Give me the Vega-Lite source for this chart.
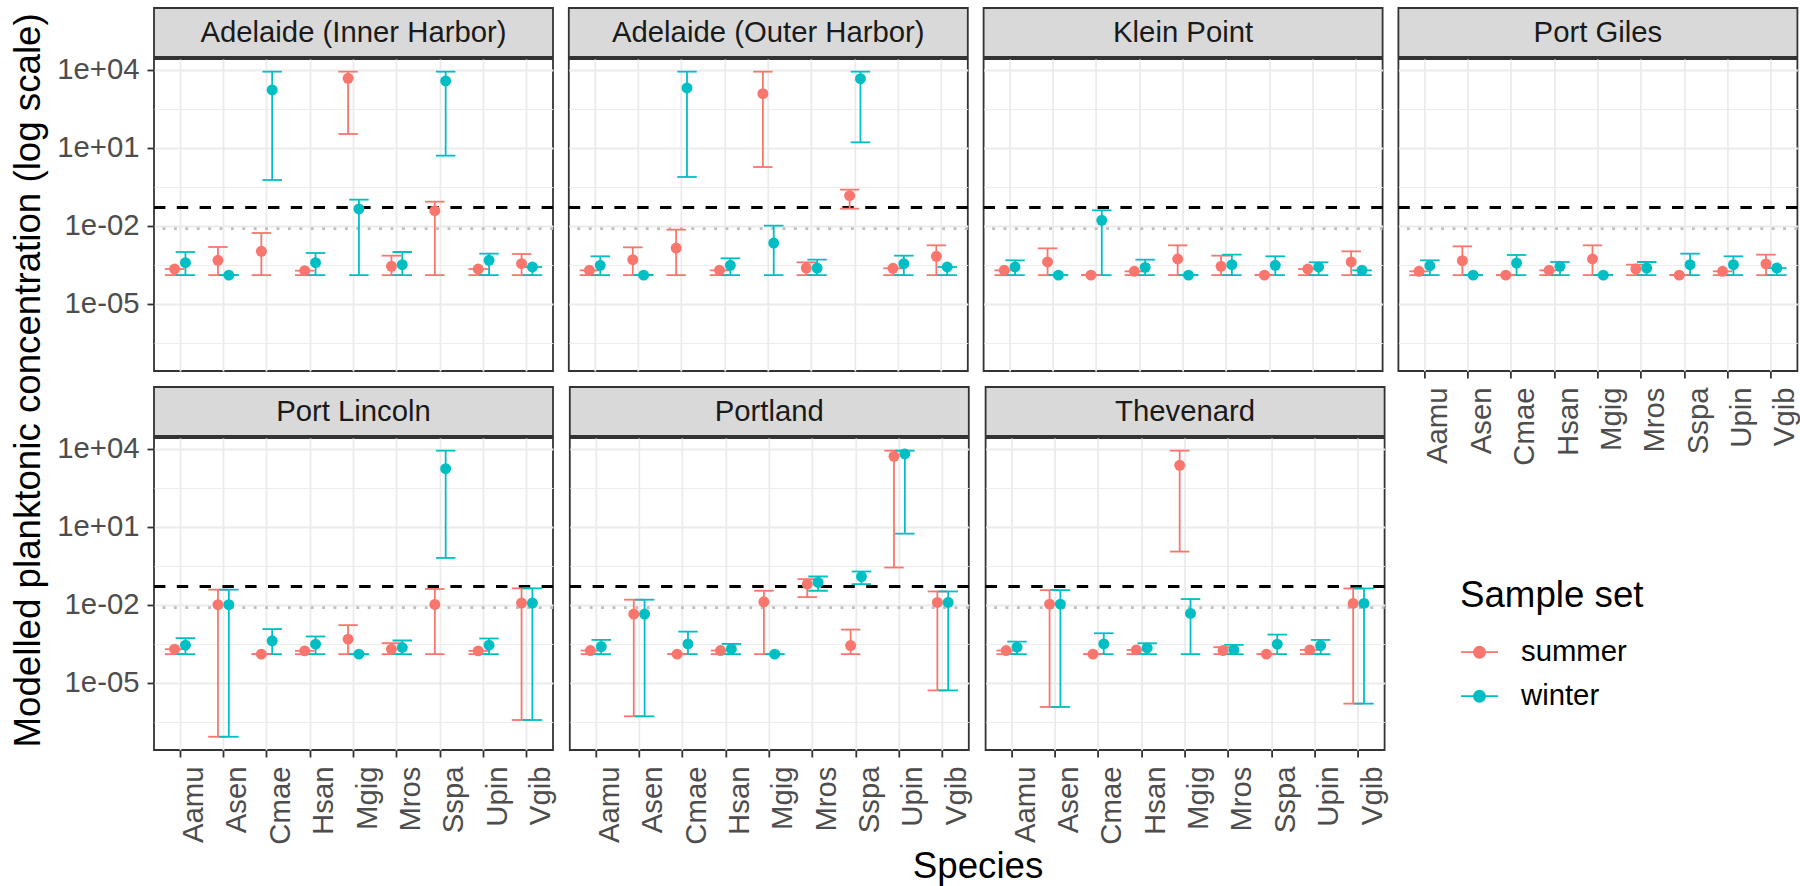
{
  "$schema": "https://vega.github.io/schema/vega-lite/v6.json",
  "background": "white",
  "padding": {"left": 11, "top": 7, "right": 0, "bottom": 0},
  "title": {"text": "Modelled planktonic concentration (log scale)", "orient": "left", "anchor": "middle", "fontSize": 36.7, "fontWeight": "normal", "color": "black", "font": "Liberation Sans", "offset": 8, "dx": 66},
  "datasets": {
    "conc": [
      {"st":"Adelaide (Inner Harbor)","sp":"Aamu","set":"summer","m":2.15e-4,"lo":1.25e-4,"hi":2.15e-4},
      {"st":"Adelaide (Inner Harbor)","sp":"Aamu","set":"winter","m":3.78e-4,"lo":1.25e-4,"hi":9.7e-4},
      {"st":"Adelaide (Inner Harbor)","sp":"Asen","set":"summer","m":4.65e-4,"lo":1.25e-4,"hi":1.51e-3},
      {"st":"Adelaide (Inner Harbor)","sp":"Asen","set":"winter","m":1.25e-4,"lo":1.25e-4,"hi":1.25e-4},
      {"st":"Adelaide (Inner Harbor)","sp":"Cmae","set":"summer","m":1.03e-3,"lo":1.25e-4,"hi":5.22e-3},
      {"st":"Adelaide (Inner Harbor)","sp":"Cmae","set":"winter","m":1652,"lo":0.57,"hi":8375},
      {"st":"Adelaide (Inner Harbor)","sp":"Hsan","set":"summer","m":1.86e-4,"lo":1.25e-4,"hi":1.86e-4},
      {"st":"Adelaide (Inner Harbor)","sp":"Hsan","set":"winter","m":3.78e-4,"lo":1.25e-4,"hi":8.89e-4},
      {"st":"Adelaide (Inner Harbor)","sp":"Mgig","set":"summer","m":4645,"lo":33.6,"hi":8375},
      {"st":"Adelaide (Inner Harbor)","sp":"Mgig","set":"winter","m":0.0438,"lo":1.25e-4,"hi":0.1},
      {"st":"Adelaide (Inner Harbor)","sp":"Mros","set":"summer","m":2.73e-4,"lo":1.25e-4,"hi":7.01e-4},
      {"st":"Adelaide (Inner Harbor)","sp":"Mros","set":"winter","m":3.16e-4,"lo":1.25e-4,"hi":9.7e-4},
      {"st":"Adelaide (Inner Harbor)","sp":"Sspa","set":"summer","m":0.0378,"lo":1.25e-4,"hi":0.0838},
      {"st":"Adelaide (Inner Harbor)","sp":"Sspa","set":"winter","m":3664,"lo":4.92,"hi":8375},
      {"st":"Adelaide (Inner Harbor)","sp":"Upin","set":"summer","m":2.15e-4,"lo":1.25e-4,"hi":2.15e-4},
      {"st":"Adelaide (Inner Harbor)","sp":"Upin","set":"winter","m":4.65e-4,"lo":1.25e-4,"hi":8.38e-4},
      {"st":"Adelaide (Inner Harbor)","sp":"Vgib","set":"summer","m":3.45e-4,"lo":1.25e-4,"hi":8.13e-4},
      {"st":"Adelaide (Inner Harbor)","sp":"Vgib","set":"winter","m":2.57e-4,"lo":1.25e-4,"hi":2.57e-4},

      {"st":"Adelaide (Outer Harbor)","sp":"Aamu","set":"summer","m":1.91e-4,"lo":1.25e-4,"hi":1.91e-4},
      {"st":"Adelaide (Outer Harbor)","sp":"Aamu","set":"winter","m":2.98e-4,"lo":1.25e-4,"hi":6.62e-4},
      {"st":"Adelaide (Outer Harbor)","sp":"Asen","set":"summer","m":4.92e-4,"lo":1.25e-4,"hi":1.47e-3},
      {"st":"Adelaide (Outer Harbor)","sp":"Asen","set":"winter","m":1.25e-4,"lo":1.25e-4,"hi":1.25e-4},
      {"st":"Adelaide (Outer Harbor)","sp":"Cmae","set":"summer","m":1.38e-3,"lo":1.25e-4,"hi":7.02e-3},
      {"st":"Adelaide (Outer Harbor)","sp":"Cmae","set":"winter","m":1972,"lo":0.745,"hi":8375},
      {"st":"Adelaide (Outer Harbor)","sp":"Hsan","set":"summer","m":1.91e-4,"lo":1.25e-4,"hi":1.91e-4},
      {"st":"Adelaide (Outer Harbor)","sp":"Hsan","set":"winter","m":2.98e-4,"lo":1.25e-4,"hi":5.55e-4},
      {"st":"Adelaide (Outer Harbor)","sp":"Mgig","set":"summer","m":1194,"lo":1.8,"hi":8375},
      {"st":"Adelaide (Outer Harbor)","sp":"Mgig","set":"winter","m":2.15e-3,"lo":1.25e-4,"hi":0.01},
      {"st":"Adelaide (Outer Harbor)","sp":"Mros","set":"summer","m":2.35e-4,"lo":1.25e-4,"hi":3.89e-4},
      {"st":"Adelaide (Outer Harbor)","sp":"Mros","set":"winter","m":2.35e-4,"lo":1.25e-4,"hi":4.92e-4},
      {"st":"Adelaide (Outer Harbor)","sp":"Sspa","set":"summer","m":0.143,"lo":0.0451,"hi":0.243},
      {"st":"Adelaide (Outer Harbor)","sp":"Sspa","set":"winter","m":4508,"lo":16.0,"hi":8375},
      {"st":"Adelaide (Outer Harbor)","sp":"Upin","set":"summer","m":2.29e-4,"lo":1.25e-4,"hi":2.29e-4},
      {"st":"Adelaide (Outer Harbor)","sp":"Upin","set":"winter","m":3.45e-4,"lo":1.25e-4,"hi":7.01e-4},
      {"st":"Adelaide (Outer Harbor)","sp":"Vgib","set":"summer","m":6.62e-4,"lo":1.25e-4,"hi":1.75e-3},
      {"st":"Adelaide (Outer Harbor)","sp":"Vgib","set":"winter","m":2.57e-4,"lo":1.25e-4,"hi":2.57e-4},

      {"st":"Klein Point","sp":"Aamu","set":"summer","m":1.91e-4,"lo":1.25e-4,"hi":1.91e-4},
      {"st":"Klein Point","sp":"Aamu","set":"winter","m":2.57e-4,"lo":1.25e-4,"hi":4.65e-4},
      {"st":"Klein Point","sp":"Asen","set":"summer","m":4.01e-4,"lo":1.25e-4,"hi":1.34e-3},
      {"st":"Klein Point","sp":"Asen","set":"winter","m":1.25e-4,"lo":1.25e-4,"hi":1.25e-4},
      {"st":"Klein Point","sp":"Cmae","set":"summer","m":1.25e-4,"lo":1.25e-4,"hi":1.25e-4},
      {"st":"Klein Point","sp":"Cmae","set":"winter","m":0.016,"lo":1.25e-4,"hi":0.0389},
      {"st":"Klein Point","sp":"Hsan","set":"summer","m":1.75e-4,"lo":1.25e-4,"hi":1.75e-4},
      {"st":"Klein Point","sp":"Hsan","set":"winter","m":2.49e-4,"lo":1.25e-4,"hi":4.92e-4},
      {"st":"Klein Point","sp":"Mgig","set":"summer","m":5.22e-4,"lo":1.25e-4,"hi":1.75e-3},
      {"st":"Klein Point","sp":"Mgig","set":"winter","m":1.25e-4,"lo":1.25e-4,"hi":1.25e-4},
      {"st":"Klein Point","sp":"Mros","set":"summer","m":2.73e-4,"lo":1.25e-4,"hi":7.01e-4},
      {"st":"Klein Point","sp":"Mros","set":"winter","m":3.16e-4,"lo":1.25e-4,"hi":7.67e-4},
      {"st":"Klein Point","sp":"Sspa","set":"summer","m":1.25e-4,"lo":1.25e-4,"hi":1.25e-4},
      {"st":"Klein Point","sp":"Sspa","set":"winter","m":2.98e-4,"lo":1.25e-4,"hi":6.62e-4},
      {"st":"Klein Point","sp":"Upin","set":"summer","m":2.15e-4,"lo":1.25e-4,"hi":2.15e-4},
      {"st":"Klein Point","sp":"Upin","set":"winter","m":2.57e-4,"lo":1.25e-4,"hi":3.89e-4},
      {"st":"Klein Point","sp":"Vgib","set":"summer","m":4.01e-4,"lo":1.25e-4,"hi":1.03e-3},
      {"st":"Klein Point","sp":"Vgib","set":"winter","m":1.91e-4,"lo":1.25e-4,"hi":1.91e-4},

      {"st":"Port Giles","sp":"Aamu","set":"summer","m":1.75e-4,"lo":1.25e-4,"hi":1.75e-4},
      {"st":"Port Giles","sp":"Aamu","set":"winter","m":2.9e-4,"lo":1.25e-4,"hi":4.65e-4},
      {"st":"Port Giles","sp":"Asen","set":"summer","m":4.51e-4,"lo":1.25e-4,"hi":1.6e-3},
      {"st":"Port Giles","sp":"Asen","set":"winter","m":1.25e-4,"lo":1.25e-4,"hi":1.25e-4},
      {"st":"Port Giles","sp":"Cmae","set":"summer","m":1.25e-4,"lo":1.25e-4,"hi":1.25e-4},
      {"st":"Port Giles","sp":"Cmae","set":"winter","m":3.66e-4,"lo":1.25e-4,"hi":7.45e-4},
      {"st":"Port Giles","sp":"Hsan","set":"summer","m":1.91e-4,"lo":1.25e-4,"hi":1.91e-4},
      {"st":"Port Giles","sp":"Hsan","set":"winter","m":2.73e-4,"lo":1.25e-4,"hi":4.01e-4},
      {"st":"Port Giles","sp":"Mgig","set":"summer","m":5.22e-4,"lo":1.25e-4,"hi":1.75e-3},
      {"st":"Port Giles","sp":"Mgig","set":"winter","m":1.25e-4,"lo":1.25e-4,"hi":1.25e-4},
      {"st":"Port Giles","sp":"Mros","set":"summer","m":2.15e-4,"lo":1.25e-4,"hi":3.16e-4},
      {"st":"Port Giles","sp":"Mros","set":"winter","m":2.35e-4,"lo":1.25e-4,"hi":4.01e-4},
      {"st":"Port Giles","sp":"Sspa","set":"summer","m":1.25e-4,"lo":1.25e-4,"hi":1.25e-4},
      {"st":"Port Giles","sp":"Sspa","set":"winter","m":3.16e-4,"lo":1.25e-4,"hi":8.38e-4},
      {"st":"Port Giles","sp":"Upin","set":"summer","m":1.75e-4,"lo":1.25e-4,"hi":1.75e-4},
      {"st":"Port Giles","sp":"Upin","set":"winter","m":3.16e-4,"lo":1.25e-4,"hi":6.62e-4},
      {"st":"Port Giles","sp":"Vgib","set":"summer","m":3.36e-4,"lo":1.25e-4,"hi":7.67e-4},
      {"st":"Port Giles","sp":"Vgib","set":"winter","m":2.35e-4,"lo":1.25e-4,"hi":2.35e-4},

      {"st":"Port Lincoln","sp":"Aamu","set":"summer","m":1.94e-4,"lo":1.25e-4,"hi":1.94e-4},
      {"st":"Port Lincoln","sp":"Aamu","set":"winter","m":2.77e-4,"lo":1.25e-4,"hi":5.15e-4},
      {"st":"Port Lincoln","sp":"Asen","set":"summer","m":9.93e-3,"lo":8.3e-8,"hi":0.0377},
      {"st":"Port Lincoln","sp":"Asen","set":"winter","m":9.93e-3,"lo":8.3e-8,"hi":0.0377},
      {"st":"Port Lincoln","sp":"Cmae","set":"summer","m":1.25e-4,"lo":1.25e-4,"hi":1.25e-4},
      {"st":"Port Lincoln","sp":"Cmae","set":"winter","m":4.06e-4,"lo":1.25e-4,"hi":1.15e-3},
      {"st":"Port Lincoln","sp":"Hsan","set":"summer","m":1.67e-4,"lo":1.25e-4,"hi":1.67e-4},
      {"st":"Port Lincoln","sp":"Hsan","set":"winter","m":3.03e-4,"lo":1.25e-4,"hi":5.97e-4},
      {"st":"Port Lincoln","sp":"Mgig","set":"summer","m":4.72e-4,"lo":1.25e-4,"hi":1.63e-3},
      {"st":"Port Lincoln","sp":"Mgig","set":"winter","m":1.25e-4,"lo":1.25e-4,"hi":1.25e-4},
      {"st":"Port Lincoln","sp":"Mros","set":"summer","m":1.94e-4,"lo":1.25e-4,"hi":3.3e-4},
      {"st":"Port Lincoln","sp":"Mros","set":"winter","m":2.25e-4,"lo":1.25e-4,"hi":4.19e-4},
      {"st":"Port Lincoln","sp":"Sspa","set":"summer","m":0.0102,"lo":1.25e-4,"hi":0.04},
      {"st":"Port Lincoln","sp":"Sspa","set":"winter","m":1694,"lo":0.627,"hi":8375},
      {"st":"Port Lincoln","sp":"Upin","set":"summer","m":1.67e-4,"lo":1.25e-4,"hi":1.67e-4},
      {"st":"Port Lincoln","sp":"Upin","set":"winter","m":2.77e-4,"lo":1.25e-4,"hi":5.0e-4},
      {"st":"Port Lincoln","sp":"Vgib","set":"summer","m":0.0115,"lo":3.66e-7,"hi":0.0424},
      {"st":"Port Lincoln","sp":"Vgib","set":"winter","m":0.0115,"lo":3.66e-7,"hi":0.0424},

      {"st":"Portland","sp":"Aamu","set":"summer","m":1.72e-4,"lo":1.25e-4,"hi":1.72e-4},
      {"st":"Portland","sp":"Aamu","set":"winter","m":2.44e-4,"lo":1.25e-4,"hi":4.41e-4},
      {"st":"Portland","sp":"Asen","set":"summer","m":4.37e-3,"lo":5.08e-7,"hi":0.0155},
      {"st":"Portland","sp":"Asen","set":"winter","m":4.37e-3,"lo":5.08e-7,"hi":0.0155},
      {"st":"Portland","sp":"Cmae","set":"summer","m":1.25e-4,"lo":1.25e-4,"hi":1.25e-4},
      {"st":"Portland","sp":"Cmae","set":"winter","m":3.09e-4,"lo":1.25e-4,"hi":9.18e-4},
      {"st":"Portland","sp":"Hsan","set":"summer","m":1.72e-4,"lo":1.25e-4,"hi":1.72e-4},
      {"st":"Portland","sp":"Hsan","set":"winter","m":1.99e-4,"lo":1.25e-4,"hi":3.09e-4},
      {"st":"Portland","sp":"Mgig","set":"summer","m":0.0129,"lo":1.25e-4,"hi":0.0342},
      {"st":"Portland","sp":"Mgig","set":"winter","m":1.25e-4,"lo":1.25e-4,"hi":1.25e-4},
      {"st":"Portland","sp":"Mros","set":"summer","m":0.0615,"lo":0.0195,"hi":0.0957},
      {"st":"Portland","sp":"Mros","set":"winter","m":0.0713,"lo":0.0342,"hi":0.121},
      {"st":"Portland","sp":"Sspa","set":"summer","m":2.67e-4,"lo":1.25e-4,"hi":1.1e-3},
      {"st":"Portland","sp":"Sspa","set":"winter","m":0.121,"lo":0.0615,"hi":0.188},
      {"st":"Portland","sp":"Upin","set":"summer","m":5082,"lo":0.268,"hi":8375},
      {"st":"Portland","sp":"Upin","set":"winter","m":6252,"lo":5.38,"hi":8375},
      {"st":"Portland","sp":"Vgib","set":"summer","m":0.0122,"lo":5.04e-6,"hi":0.0322},
      {"st":"Portland","sp":"Vgib","set":"winter","m":0.0122,"lo":5.04e-6,"hi":0.0322},

      {"st":"Thevenard","sp":"Aamu","set":"summer","m":1.72e-4,"lo":1.25e-4,"hi":1.72e-4},
      {"st":"Thevenard","sp":"Aamu","set":"winter","m":2.31e-4,"lo":1.25e-4,"hi":3.8e-4},
      {"st":"Thevenard","sp":"Asen","set":"summer","m":0.0105,"lo":1.16e-6,"hi":0.0362},
      {"st":"Thevenard","sp":"Asen","set":"winter","m":0.0105,"lo":1.16e-6,"hi":0.0362},
      {"st":"Thevenard","sp":"Cmae","set":"summer","m":1.25e-4,"lo":1.25e-4,"hi":1.25e-4},
      {"st":"Thevenard","sp":"Cmae","set":"winter","m":3.09e-4,"lo":1.25e-4,"hi":7.94e-4},
      {"st":"Thevenard","sp":"Hsan","set":"summer","m":1.82e-4,"lo":1.25e-4,"hi":1.82e-4},
      {"st":"Thevenard","sp":"Hsan","set":"winter","m":2.17e-4,"lo":1.25e-4,"hi":3.28e-4},
      {"st":"Thevenard","sp":"Mgig","set":"summer","m":2296,"lo":1.1,"hi":8375},
      {"st":"Thevenard","sp":"Mgig","set":"winter","m":4.62e-3,"lo":1.25e-4,"hi":0.0164},
      {"st":"Thevenard","sp":"Mros","set":"summer","m":1.72e-4,"lo":1.25e-4,"hi":2.31e-4},
      {"st":"Thevenard","sp":"Mros","set":"winter","m":1.82e-4,"lo":1.25e-4,"hi":2.83e-4},
      {"st":"Thevenard","sp":"Sspa","set":"summer","m":1.25e-4,"lo":1.25e-4,"hi":1.25e-4},
      {"st":"Thevenard","sp":"Sspa","set":"winter","m":3.01e-4,"lo":1.25e-4,"hi":7.05e-4},
      {"st":"Thevenard","sp":"Upin","set":"summer","m":1.82e-4,"lo":1.25e-4,"hi":1.82e-4},
      {"st":"Thevenard","sp":"Upin","set":"winter","m":2.67e-4,"lo":1.25e-4,"hi":4.41e-4},
      {"st":"Thevenard","sp":"Vgib","set":"summer","m":0.0112,"lo":1.56e-6,"hi":0.042},
      {"st":"Thevenard","sp":"Vgib","set":"winter","m":0.0112,"lo":1.56e-6,"hi":0.042}
    ]
  },
  "bounds": "flush",
  "spacing": 379,
  "vconcat": [
    {
      "spacing": 9.8,
      "hconcat": [
        {"bounds": "flush", "spacing": 2, "vconcat": [
          {"width": 399, "height": 49, "data": {"values": [{"s": "Adelaide (Inner Harbor)"}]}, "mark": {"type": "text", "fontSize": 29.3, "color": "#1A1A1A", "baseline": "middle"}, "encoding": {"text": {"field": "s", "type": "nominal"}}, "view": {"fill": "#D9D9D9", "stroke": "#333333", "strokeWidth": 1.8}},
          {"width": 399, "height": 312, "layer": [
            {"data": {"values": [{"v": 0.0077}]}, "mark": {"type": "rule", "color": "#BEBEBE", "strokeWidth": 2.85, "strokeDash": [2.85, 8.55], "strokeCap": "butt"},
             "encoding": {"y": {"field": "v", "type": "quantitative", "title": null, "scale": {"type": "log", "domain": [2.57e-8, 25700], "nice": false},
               "axis": {"values": [10000, 316.2278, 10, 0.3162278, 0.01, 0.0003162278, 0.00001, 3.162278e-7], "title": null, "domain": false, "grid": true, "gridColor": "#EBEBEB",
                 "gridWidth": {"condition": {"test": "abs(log(datum.value)/LN10 - round(log(datum.value)/LN10)) < 0.1", "value": 1.8}, "value": 0.9},
                 "ticks": true, "tickColor": "#333333", "tickWidth": 1.8, "tickSize": 7,
                 "tickOpacity": {"condition": {"test": "abs(log(datum.value)/LN10 - round(log(datum.value)/LN10)) < 0.1", "value": 1}, "value": 0},
                 "labelExpr": "abs(log(datum.value)/LN10 - round(log(datum.value)/LN10)) < 0.1 ? (datum.value >= 1 ? '1e+0' : '1e-0') + abs(round(log(datum.value)/LN10)) : ''",
                 "labelFontSize": 29.3, "labelColor": "#4D4D4D", "labelPadding": 8, "labelOverlap": false, "labelFlush": false, "labelBound": false}}}},
            {"data": {"values": [{"v": 0.05}]}, "mark": {"type": "rule", "color": "black", "strokeWidth": 2.85, "strokeDash": [11.4, 11.4]}, "encoding": {"y": {"field": "v", "type": "quantitative", "title": null}}},
            {"data": {"name": "conc"}, "transform": [{"filter": {"field": "st", "equal": "Adelaide (Inner Harbor)"}}],
             "encoding": {
               "x": {"field": "sp", "type": "nominal", "title": null, "scale": {"type": "band", "domain": ["Aamu","Asen","Cmae","Hsan","Mgig","Mros","Sspa","Upin","Vgib"], "paddingInner": 0, "paddingOuter": 0.1},
                 "axis": {"domain": false, "grid": true, "gridColor": "#EBEBEB", "gridWidth": 1.8, "ticks": false, "labels": false}},
               "xOffset": {"field": "set", "type": "nominal", "scale": {"domain": ["summer","winter"], "paddingInner": 0, "paddingOuter": 1}},
               "color": {"field": "set", "type": "nominal", "scale": {"domain": ["summer","winter"], "range": ["#F8766D","#00BFC4"]},
                 "legend": {"title": "Sample set", "orient": "none", "legendX": 1306, "legendY": 570, "symbolType": "M-1,0H1M-0.3,0A0.3,0.3,0,1,0,0.3,0A0.3,0.3,0,1,0,-0.3,0Z", "symbolSize": 1369, "symbolStrokeWidth": 1.8, "rowPadding": 9, "titlePadding": 18, "labelOffset": 22, "titleFontSize": 36.7, "titleFontWeight": "normal", "titleColor": "black", "titleLimit": 500, "labelFontSize": 29.3, "labelColor": "black", "labelLimit": 300, "padding": 0,
                   "encode": {"symbols": {"update": {"stroke": {"scale": "color", "field": "value"}, "fill": {"scale": "color", "field": "value"}, "opacity": {"value": 1}}}}}}
             },
             "layer": [
               {"mark": {"type": "rule", "strokeWidth": 1.8}, "encoding": {"y": {"field": "lo", "type": "quantitative", "title": null}, "y2": {"field": "hi"}}},
               {"mark": {"type": "tick", "orient": "horizontal", "size": 19.5, "thickness": 1.8, "opacity": 1}, "encoding": {"y": {"field": "lo", "type": "quantitative", "title": null}}},
               {"mark": {"type": "tick", "orient": "horizontal", "size": 19.5, "thickness": 1.8, "opacity": 1}, "encoding": {"y": {"field": "hi", "type": "quantitative", "title": null}}},
               {"mark": {"type": "circle", "size": 120, "opacity": 1}, "encoding": {"y": {"field": "m", "type": "quantitative", "title": null}}}
             ]}
          ]}
        ]},
        {"bounds": "flush", "spacing": 2, "vconcat": [
          {"width": 399, "height": 49, "data": {"values": [{"s": "Adelaide (Outer Harbor)"}]}, "mark": {"type": "text", "fontSize": 29.3, "color": "#1A1A1A", "baseline": "middle"}, "encoding": {"text": {"field": "s", "type": "nominal"}}, "view": {"fill": "#D9D9D9", "stroke": "#333333", "strokeWidth": 1.8}},
          {"width": 399, "height": 312, "layer": [
            {"data": {"values": [{"v": 0.0077}]}, "mark": {"type": "rule", "color": "#BEBEBE", "strokeWidth": 2.85, "strokeDash": [2.85, 8.55], "strokeCap": "butt"},
             "encoding": {"y": {"field": "v", "type": "quantitative", "title": null, "scale": {"type": "log", "domain": [2.57e-8, 25700], "nice": false},
               "axis": {"values": [10000, 316.2278, 10, 0.3162278, 0.01, 0.0003162278, 0.00001, 3.162278e-7], "title": null, "domain": false, "grid": true, "gridColor": "#EBEBEB",
                 "gridWidth": {"condition": {"test": "abs(log(datum.value)/LN10 - round(log(datum.value)/LN10)) < 0.1", "value": 1.8}, "value": 0.9},
                 "ticks": false, "labels": false}}}},
            {"data": {"values": [{"v": 0.05}]}, "mark": {"type": "rule", "color": "black", "strokeWidth": 2.85, "strokeDash": [11.4, 11.4]}, "encoding": {"y": {"field": "v", "type": "quantitative", "title": null}}},
            {"data": {"name": "conc"}, "transform": [{"filter": {"field": "st", "equal": "Adelaide (Outer Harbor)"}}],
             "encoding": {
               "x": {"field": "sp", "type": "nominal", "title": null, "scale": {"type": "band", "domain": ["Aamu","Asen","Cmae","Hsan","Mgig","Mros","Sspa","Upin","Vgib"], "paddingInner": 0, "paddingOuter": 0.1},
                 "axis": {"domain": false, "grid": true, "gridColor": "#EBEBEB", "gridWidth": 1.8, "ticks": false, "labels": false}},
               "xOffset": {"field": "set", "type": "nominal", "scale": {"domain": ["summer","winter"], "paddingInner": 0, "paddingOuter": 1}},
               "color": {"field": "set", "type": "nominal", "scale": {"domain": ["summer","winter"], "range": ["#F8766D","#00BFC4"]}, "legend": {"title": "Sample set"}}
             },
             "layer": [
               {"mark": {"type": "rule", "strokeWidth": 1.8}, "encoding": {"y": {"field": "lo", "type": "quantitative", "title": null}, "y2": {"field": "hi"}}},
               {"mark": {"type": "tick", "orient": "horizontal", "size": 19.5, "thickness": 1.8, "opacity": 1}, "encoding": {"y": {"field": "lo", "type": "quantitative", "title": null}}},
               {"mark": {"type": "tick", "orient": "horizontal", "size": 19.5, "thickness": 1.8, "opacity": 1}, "encoding": {"y": {"field": "hi", "type": "quantitative", "title": null}}},
               {"mark": {"type": "circle", "size": 120, "opacity": 1}, "encoding": {"y": {"field": "m", "type": "quantitative", "title": null}}}
             ]}
          ]}
        ]},
        {"bounds": "flush", "spacing": 2, "vconcat": [
          {"width": 399, "height": 49, "data": {"values": [{"s": "Klein Point"}]}, "mark": {"type": "text", "fontSize": 29.3, "color": "#1A1A1A", "baseline": "middle"}, "encoding": {"text": {"field": "s", "type": "nominal"}}, "view": {"fill": "#D9D9D9", "stroke": "#333333", "strokeWidth": 1.8}},
          {"width": 399, "height": 312, "layer": [
            {"data": {"values": [{"v": 0.0077}]}, "mark": {"type": "rule", "color": "#BEBEBE", "strokeWidth": 2.85, "strokeDash": [2.85, 8.55], "strokeCap": "butt"},
             "encoding": {"y": {"field": "v", "type": "quantitative", "title": null, "scale": {"type": "log", "domain": [2.57e-8, 25700], "nice": false},
               "axis": {"values": [10000, 316.2278, 10, 0.3162278, 0.01, 0.0003162278, 0.00001, 3.162278e-7], "title": null, "domain": false, "grid": true, "gridColor": "#EBEBEB",
                 "gridWidth": {"condition": {"test": "abs(log(datum.value)/LN10 - round(log(datum.value)/LN10)) < 0.1", "value": 1.8}, "value": 0.9},
                 "ticks": false, "labels": false}}}},
            {"data": {"values": [{"v": 0.05}]}, "mark": {"type": "rule", "color": "black", "strokeWidth": 2.85, "strokeDash": [11.4, 11.4]}, "encoding": {"y": {"field": "v", "type": "quantitative", "title": null}}},
            {"data": {"name": "conc"}, "transform": [{"filter": {"field": "st", "equal": "Klein Point"}}],
             "encoding": {
               "x": {"field": "sp", "type": "nominal", "title": null, "scale": {"type": "band", "domain": ["Aamu","Asen","Cmae","Hsan","Mgig","Mros","Sspa","Upin","Vgib"], "paddingInner": 0, "paddingOuter": 0.1},
                 "axis": {"domain": false, "grid": true, "gridColor": "#EBEBEB", "gridWidth": 1.8, "ticks": false, "labels": false}},
               "xOffset": {"field": "set", "type": "nominal", "scale": {"domain": ["summer","winter"], "paddingInner": 0, "paddingOuter": 1}},
               "color": {"field": "set", "type": "nominal", "scale": {"domain": ["summer","winter"], "range": ["#F8766D","#00BFC4"]}, "legend": {"title": "Sample set"}}
             },
             "layer": [
               {"mark": {"type": "rule", "strokeWidth": 1.8}, "encoding": {"y": {"field": "lo", "type": "quantitative", "title": null}, "y2": {"field": "hi"}}},
               {"mark": {"type": "tick", "orient": "horizontal", "size": 19.5, "thickness": 1.8, "opacity": 1}, "encoding": {"y": {"field": "lo", "type": "quantitative", "title": null}}},
               {"mark": {"type": "tick", "orient": "horizontal", "size": 19.5, "thickness": 1.8, "opacity": 1}, "encoding": {"y": {"field": "hi", "type": "quantitative", "title": null}}},
               {"mark": {"type": "circle", "size": 120, "opacity": 1}, "encoding": {"y": {"field": "m", "type": "quantitative", "title": null}}}
             ]}
          ]}
        ]},
        {"bounds": "flush", "spacing": 2, "vconcat": [
          {"width": 399, "height": 49, "data": {"values": [{"s": "Port Giles"}]}, "mark": {"type": "text", "fontSize": 29.3, "color": "#1A1A1A", "baseline": "middle"}, "encoding": {"text": {"field": "s", "type": "nominal"}}, "view": {"fill": "#D9D9D9", "stroke": "#333333", "strokeWidth": 1.8}},
          {"width": 399, "height": 312, "layer": [
            {"data": {"values": [{"v": 0.0077}]}, "mark": {"type": "rule", "color": "#BEBEBE", "strokeWidth": 2.85, "strokeDash": [2.85, 8.55], "strokeCap": "butt"},
             "encoding": {"y": {"field": "v", "type": "quantitative", "title": null, "scale": {"type": "log", "domain": [2.57e-8, 25700], "nice": false},
               "axis": {"values": [10000, 316.2278, 10, 0.3162278, 0.01, 0.0003162278, 0.00001, 3.162278e-7], "title": null, "domain": false, "grid": true, "gridColor": "#EBEBEB",
                 "gridWidth": {"condition": {"test": "abs(log(datum.value)/LN10 - round(log(datum.value)/LN10)) < 0.1", "value": 1.8}, "value": 0.9},
                 "ticks": false, "labels": false}}}},
            {"data": {"values": [{"v": 0.05}]}, "mark": {"type": "rule", "color": "black", "strokeWidth": 2.85, "strokeDash": [11.4, 11.4]}, "encoding": {"y": {"field": "v", "type": "quantitative", "title": null}}},
            {"data": {"name": "conc"}, "transform": [{"filter": {"field": "st", "equal": "Port Giles"}}],
             "encoding": {
               "x": {"field": "sp", "type": "nominal", "title": null, "scale": {"type": "band", "domain": ["Aamu","Asen","Cmae","Hsan","Mgig","Mros","Sspa","Upin","Vgib"], "paddingInner": 0, "paddingOuter": 0.1},
                 "axis": {"domain": false, "grid": true, "gridColor": "#EBEBEB", "gridWidth": 1.8, "ticks": true, "tickColor": "#333333", "tickWidth": 1.8, "tickSize": 7, "labelAngle": 270, "labelAlign": "right", "labelBaseline": "top", "labelPadding": 9, "labelFontSize": 29.3, "labelColor": "#4D4D4D"}},
               "xOffset": {"field": "set", "type": "nominal", "scale": {"domain": ["summer","winter"], "paddingInner": 0, "paddingOuter": 1}},
               "color": {"field": "set", "type": "nominal", "scale": {"domain": ["summer","winter"], "range": ["#F8766D","#00BFC4"]}, "legend": {"title": "Sample set"}}
             },
             "layer": [
               {"mark": {"type": "rule", "strokeWidth": 1.8}, "encoding": {"y": {"field": "lo", "type": "quantitative", "title": null}, "y2": {"field": "hi"}}},
               {"mark": {"type": "tick", "orient": "horizontal", "size": 19.5, "thickness": 1.8, "opacity": 1}, "encoding": {"y": {"field": "lo", "type": "quantitative", "title": null}}},
               {"mark": {"type": "tick", "orient": "horizontal", "size": 19.5, "thickness": 1.8, "opacity": 1}, "encoding": {"y": {"field": "hi", "type": "quantitative", "title": null}}},
               {"mark": {"type": "circle", "size": 120, "opacity": 1}, "encoding": {"y": {"field": "m", "type": "quantitative", "title": null}}}
             ]}
          ]}
        ]}
      ]
    },
    {
      "spacing": 9.8,
      "title": {"text": "Species", "orient": "bottom", "anchor": "middle", "fontSize": 36.7, "fontWeight": "normal", "color": "black", "font": "Liberation Sans", "offset": 4, "dx": 256},
      "hconcat": [
        {"bounds": "flush", "spacing": 2, "vconcat": [
          {"width": 399, "height": 49, "data": {"values": [{"s": "Port Lincoln"}]}, "mark": {"type": "text", "fontSize": 29.3, "color": "#1A1A1A", "baseline": "middle"}, "encoding": {"text": {"field": "s", "type": "nominal"}}, "view": {"fill": "#D9D9D9", "stroke": "#333333", "strokeWidth": 1.8}},
          {"width": 399, "height": 312, "layer": [
            {"data": {"values": [{"v": 0.0077}]}, "mark": {"type": "rule", "color": "#BEBEBE", "strokeWidth": 2.85, "strokeDash": [2.85, 8.55], "strokeCap": "butt"},
             "encoding": {"y": {"field": "v", "type": "quantitative", "title": null, "scale": {"type": "log", "domain": [2.57e-8, 25700], "nice": false},
               "axis": {"values": [10000, 316.2278, 10, 0.3162278, 0.01, 0.0003162278, 0.00001, 3.162278e-7], "title": null, "domain": false, "grid": true, "gridColor": "#EBEBEB",
                 "gridWidth": {"condition": {"test": "abs(log(datum.value)/LN10 - round(log(datum.value)/LN10)) < 0.1", "value": 1.8}, "value": 0.9},
                 "ticks": true, "tickColor": "#333333", "tickWidth": 1.8, "tickSize": 7,
                 "tickOpacity": {"condition": {"test": "abs(log(datum.value)/LN10 - round(log(datum.value)/LN10)) < 0.1", "value": 1}, "value": 0},
                 "labelExpr": "abs(log(datum.value)/LN10 - round(log(datum.value)/LN10)) < 0.1 ? (datum.value >= 1 ? '1e+0' : '1e-0') + abs(round(log(datum.value)/LN10)) : ''",
                 "labelFontSize": 29.3, "labelColor": "#4D4D4D", "labelPadding": 8, "labelOverlap": false, "labelFlush": false, "labelBound": false}}}},
            {"data": {"values": [{"v": 0.05}]}, "mark": {"type": "rule", "color": "black", "strokeWidth": 2.85, "strokeDash": [11.4, 11.4]}, "encoding": {"y": {"field": "v", "type": "quantitative", "title": null}}},
            {"data": {"name": "conc"}, "transform": [{"filter": {"field": "st", "equal": "Port Lincoln"}}],
             "encoding": {
               "x": {"field": "sp", "type": "nominal", "title": null, "scale": {"type": "band", "domain": ["Aamu","Asen","Cmae","Hsan","Mgig","Mros","Sspa","Upin","Vgib"], "paddingInner": 0, "paddingOuter": 0.1},
                 "axis": {"domain": false, "grid": true, "gridColor": "#EBEBEB", "gridWidth": 1.8, "ticks": true, "tickColor": "#333333", "tickWidth": 1.8, "tickSize": 7, "labelAngle": 270, "labelAlign": "right", "labelBaseline": "top", "labelPadding": 9, "labelFontSize": 29.3, "labelColor": "#4D4D4D"}},
               "xOffset": {"field": "set", "type": "nominal", "scale": {"domain": ["summer","winter"], "paddingInner": 0, "paddingOuter": 1}},
               "color": {"field": "set", "type": "nominal", "scale": {"domain": ["summer","winter"], "range": ["#F8766D","#00BFC4"]}, "legend": {"title": "Sample set"}}
             },
             "layer": [
               {"mark": {"type": "rule", "strokeWidth": 1.8}, "encoding": {"y": {"field": "lo", "type": "quantitative", "title": null}, "y2": {"field": "hi"}}},
               {"mark": {"type": "tick", "orient": "horizontal", "size": 19.5, "thickness": 1.8, "opacity": 1}, "encoding": {"y": {"field": "lo", "type": "quantitative", "title": null}}},
               {"mark": {"type": "tick", "orient": "horizontal", "size": 19.5, "thickness": 1.8, "opacity": 1}, "encoding": {"y": {"field": "hi", "type": "quantitative", "title": null}}},
               {"mark": {"type": "circle", "size": 120, "opacity": 1}, "encoding": {"y": {"field": "m", "type": "quantitative", "title": null}}}
             ]}
          ]}
        ]},
        {"bounds": "flush", "spacing": 2, "vconcat": [
          {"width": 399, "height": 49, "data": {"values": [{"s": "Portland"}]}, "mark": {"type": "text", "fontSize": 29.3, "color": "#1A1A1A", "baseline": "middle"}, "encoding": {"text": {"field": "s", "type": "nominal"}}, "view": {"fill": "#D9D9D9", "stroke": "#333333", "strokeWidth": 1.8}},
          {"width": 399, "height": 312, "layer": [
            {"data": {"values": [{"v": 0.0077}]}, "mark": {"type": "rule", "color": "#BEBEBE", "strokeWidth": 2.85, "strokeDash": [2.85, 8.55], "strokeCap": "butt"},
             "encoding": {"y": {"field": "v", "type": "quantitative", "title": null, "scale": {"type": "log", "domain": [2.57e-8, 25700], "nice": false},
               "axis": {"values": [10000, 316.2278, 10, 0.3162278, 0.01, 0.0003162278, 0.00001, 3.162278e-7], "title": null, "domain": false, "grid": true, "gridColor": "#EBEBEB",
                 "gridWidth": {"condition": {"test": "abs(log(datum.value)/LN10 - round(log(datum.value)/LN10)) < 0.1", "value": 1.8}, "value": 0.9},
                 "ticks": false, "labels": false}}}},
            {"data": {"values": [{"v": 0.05}]}, "mark": {"type": "rule", "color": "black", "strokeWidth": 2.85, "strokeDash": [11.4, 11.4]}, "encoding": {"y": {"field": "v", "type": "quantitative", "title": null}}},
            {"data": {"name": "conc"}, "transform": [{"filter": {"field": "st", "equal": "Portland"}}],
             "encoding": {
               "x": {"field": "sp", "type": "nominal", "title": null, "scale": {"type": "band", "domain": ["Aamu","Asen","Cmae","Hsan","Mgig","Mros","Sspa","Upin","Vgib"], "paddingInner": 0, "paddingOuter": 0.1},
                 "axis": {"domain": false, "grid": true, "gridColor": "#EBEBEB", "gridWidth": 1.8, "ticks": true, "tickColor": "#333333", "tickWidth": 1.8, "tickSize": 7, "labelAngle": 270, "labelAlign": "right", "labelBaseline": "top", "labelPadding": 9, "labelFontSize": 29.3, "labelColor": "#4D4D4D"}},
               "xOffset": {"field": "set", "type": "nominal", "scale": {"domain": ["summer","winter"], "paddingInner": 0, "paddingOuter": 1}},
               "color": {"field": "set", "type": "nominal", "scale": {"domain": ["summer","winter"], "range": ["#F8766D","#00BFC4"]}, "legend": {"title": "Sample set"}}
             },
             "layer": [
               {"mark": {"type": "rule", "strokeWidth": 1.8}, "encoding": {"y": {"field": "lo", "type": "quantitative", "title": null}, "y2": {"field": "hi"}}},
               {"mark": {"type": "tick", "orient": "horizontal", "size": 19.5, "thickness": 1.8, "opacity": 1}, "encoding": {"y": {"field": "lo", "type": "quantitative", "title": null}}},
               {"mark": {"type": "tick", "orient": "horizontal", "size": 19.5, "thickness": 1.8, "opacity": 1}, "encoding": {"y": {"field": "hi", "type": "quantitative", "title": null}}},
               {"mark": {"type": "circle", "size": 120, "opacity": 1}, "encoding": {"y": {"field": "m", "type": "quantitative", "title": null}}}
             ]}
          ]}
        ]},
        {"bounds": "flush", "spacing": 2, "vconcat": [
          {"width": 399, "height": 49, "data": {"values": [{"s": "Thevenard"}]}, "mark": {"type": "text", "fontSize": 29.3, "color": "#1A1A1A", "baseline": "middle"}, "encoding": {"text": {"field": "s", "type": "nominal"}}, "view": {"fill": "#D9D9D9", "stroke": "#333333", "strokeWidth": 1.8}},
          {"width": 399, "height": 312, "layer": [
            {"data": {"values": [{"v": 0.0077}]}, "mark": {"type": "rule", "color": "#BEBEBE", "strokeWidth": 2.85, "strokeDash": [2.85, 8.55], "strokeCap": "butt"},
             "encoding": {"y": {"field": "v", "type": "quantitative", "title": null, "scale": {"type": "log", "domain": [2.57e-8, 25700], "nice": false},
               "axis": {"values": [10000, 316.2278, 10, 0.3162278, 0.01, 0.0003162278, 0.00001, 3.162278e-7], "title": null, "domain": false, "grid": true, "gridColor": "#EBEBEB",
                 "gridWidth": {"condition": {"test": "abs(log(datum.value)/LN10 - round(log(datum.value)/LN10)) < 0.1", "value": 1.8}, "value": 0.9},
                 "ticks": false, "labels": false}}}},
            {"data": {"values": [{"v": 0.05}]}, "mark": {"type": "rule", "color": "black", "strokeWidth": 2.85, "strokeDash": [11.4, 11.4]}, "encoding": {"y": {"field": "v", "type": "quantitative", "title": null}}},
            {"data": {"name": "conc"}, "transform": [{"filter": {"field": "st", "equal": "Thevenard"}}],
             "encoding": {
               "x": {"field": "sp", "type": "nominal", "title": null, "scale": {"type": "band", "domain": ["Aamu","Asen","Cmae","Hsan","Mgig","Mros","Sspa","Upin","Vgib"], "paddingInner": 0, "paddingOuter": 0.1},
                 "axis": {"domain": false, "grid": true, "gridColor": "#EBEBEB", "gridWidth": 1.8, "ticks": true, "tickColor": "#333333", "tickWidth": 1.8, "tickSize": 7, "labelAngle": 270, "labelAlign": "right", "labelBaseline": "top", "labelPadding": 9, "labelFontSize": 29.3, "labelColor": "#4D4D4D"}},
               "xOffset": {"field": "set", "type": "nominal", "scale": {"domain": ["summer","winter"], "paddingInner": 0, "paddingOuter": 1}},
               "color": {"field": "set", "type": "nominal", "scale": {"domain": ["summer","winter"], "range": ["#F8766D","#00BFC4"]}, "legend": {"title": "Sample set"}}
             },
             "layer": [
               {"mark": {"type": "rule", "strokeWidth": 1.8}, "encoding": {"y": {"field": "lo", "type": "quantitative", "title": null}, "y2": {"field": "hi"}}},
               {"mark": {"type": "tick", "orient": "horizontal", "size": 19.5, "thickness": 1.8, "opacity": 1}, "encoding": {"y": {"field": "lo", "type": "quantitative", "title": null}}},
               {"mark": {"type": "tick", "orient": "horizontal", "size": 19.5, "thickness": 1.8, "opacity": 1}, "encoding": {"y": {"field": "hi", "type": "quantitative", "title": null}}},
               {"mark": {"type": "circle", "size": 120, "opacity": 1}, "encoding": {"y": {"field": "m", "type": "quantitative", "title": null}}}
             ]}
          ]}
        ]}
      ]
    }
  ],
  "config": {
    "font": "Liberation Sans",
    "view": {"stroke": "#333333", "strokeWidth": 1.8},
    "axis": {"labelFont": "Liberation Sans"},
    "legend": {"labelFont": "Liberation Sans", "titleFont": "Liberation Sans"}
  }
}
